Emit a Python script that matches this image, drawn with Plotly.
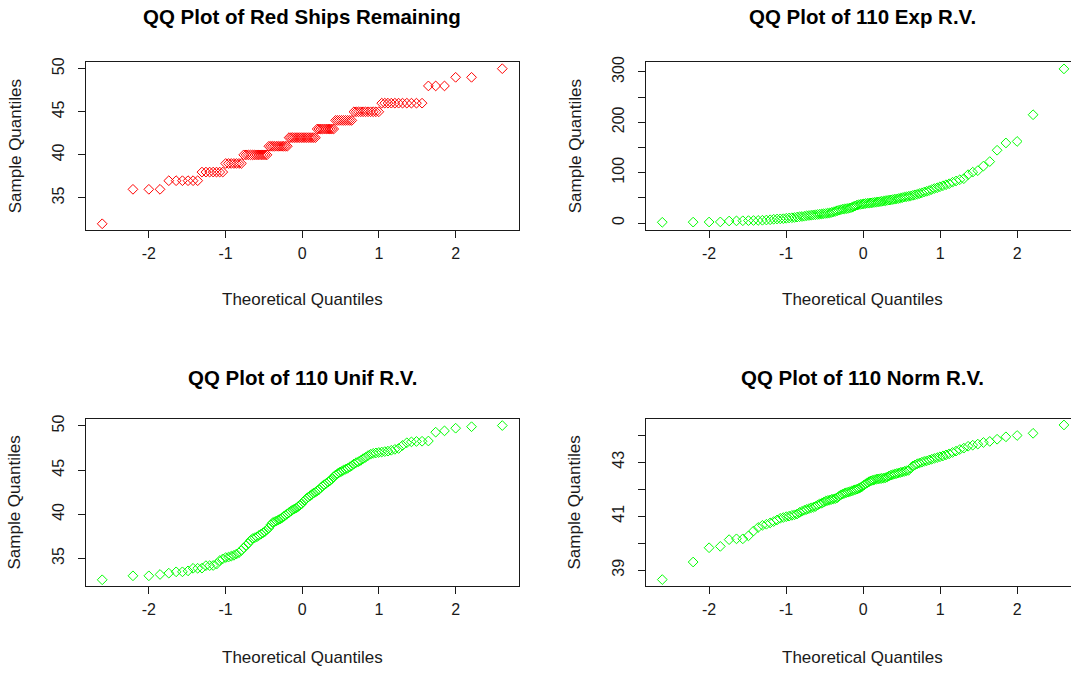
import plotly.graph_objects as go
from statistics import NormalDist

# Sorted sample values for each QQ panel
red_ships = ([32] + [36] * 3 + [37] * 6 + [38] * 7 + [39] * 7 + [40] * 12 +
             [41] * 11 + [42] * 16 + [43] * 10 + [44] * 9 + [45] * 11 +
             [46] * 11 + [48] * 3 + [49] * 2 + [50])

exp_rv = [1.5, 1.8, 2.0, 2.2, 4.0, 4.3, 4.5, 4.8, 5.0, 5.2,
          5.5, 6.0, 6.5, 7.5, 8.0, 8.3, 8.6, 9.5, 10.0, 10.5,
          11.0, 11.8, 12.5, 13.0, 13.5, 14.5, 15.0, 15.5, 16.0, 16.5,
          17.0, 17.5, 18.0, 18.5, 19.0, 19.5, 20.0, 21.0, 22.0, 23.0,
          24.5, 25.5, 26.5, 27.5, 28.0, 28.5, 29.0, 30.0, 31.0, 32.5,
          34.0, 35.5, 36.5, 37.0, 37.6, 38.2, 38.8, 39.2, 39.6, 40.0,
          40.5, 41.0, 41.5, 42.0, 42.5, 43.0, 43.5, 44.2, 44.8, 45.5,
          46.0, 46.7, 47.3, 48.0, 48.6, 49.5, 50.5, 51.5, 52.2, 53.0,
          54.0, 55.0, 56.0, 57.0, 58.5, 60.0, 61.5, 63.0, 64.5, 66.5,
          68.5, 70.0, 72.0, 74.0, 76.0, 78.0, 81.0, 83.5, 86.0, 88.0,
          96.0, 101.0, 104.0, 113.0, 122.0, 144.5, 159.0, 162.0, 215.0, 306.0]

unif_rv = [32.58, 33.03, 33.03, 33.18, 33.33, 33.48, 33.48, 33.59, 33.88, 33.88,
           33.90, 34.18, 34.18, 34.20, 34.35, 34.75, 34.95, 35.10, 35.15, 35.25,
           35.35, 35.50, 35.65, 35.90, 36.20, 36.45, 36.70, 37.05, 37.25, 37.35,
           37.45, 37.60, 37.75, 37.90, 38.05, 38.25, 38.45, 38.80, 39.05, 39.15,
           39.25, 39.35, 39.45, 39.60, 39.75, 39.90, 40.05, 40.20, 40.35, 40.50,
           40.60, 40.70, 40.85, 41.00, 41.15, 41.40, 41.60, 41.80, 41.95, 42.10,
           42.25, 42.40, 42.50, 42.65, 42.80, 43.00, 43.20, 43.35, 43.50, 43.65,
           43.80, 44.00, 44.25, 44.45, 44.60, 44.75, 44.85, 45.00, 45.10, 45.20,
           45.35, 45.50, 45.70, 45.85, 45.95, 46.10, 46.30, 46.45, 46.65, 46.80,
           46.90, 46.95, 47.00, 47.05, 47.10, 47.15, 47.25, 47.35, 47.45, 47.80,
           48.10, 48.20, 48.25, 48.27, 48.30, 49.30, 49.45, 49.75, 49.92, 50.05]

norm_rv = [38.65, 39.30, 39.83, 39.88, 40.13, 40.16, 40.16, 40.27, 40.45, 40.58,
           40.66, 40.70, 40.75, 40.80, 40.86, 40.92, 40.95, 40.98, 41.00, 41.03,
           41.05, 41.08, 41.14, 41.18, 41.22, 41.25, 41.28, 41.31, 41.33, 41.36,
           41.41, 41.46, 41.48, 41.52, 41.56, 41.58, 41.60, 41.62, 41.64, 41.65,
           41.68, 41.74, 41.79, 41.82, 41.85, 41.87, 41.89, 41.91, 41.93, 41.96,
           41.98, 42.00, 42.03, 42.06, 42.10, 42.15, 42.20, 42.24, 42.28, 42.31,
           42.33, 42.35, 42.37, 42.38, 42.39, 42.40, 42.41, 42.42, 42.45, 42.49,
           42.52, 42.54, 42.56, 42.58, 42.60, 42.62, 42.64, 42.66, 42.68, 42.70,
           42.78, 42.86, 42.90, 42.94, 42.97, 43.00, 43.03, 43.05, 43.08, 43.11,
           43.14, 43.17, 43.20, 43.23, 43.27, 43.31, 43.36, 43.41, 43.47, 43.52,
           43.59, 43.63, 43.67, 43.73, 43.77, 43.85, 43.94, 43.99, 44.07, 44.38]

titles = ["QQ Plot of Red Ships Remaining", "QQ Plot of 110 Exp R.V.",
          "QQ Plot of 110 Unif R.V.", "QQ Plot of 110 Norm R.V."]
x_tick_vals = [-2, -1, 0, 1, 2]
y_ticks = [
    ([35, 40, 45, 50], ["35", "40", "45", "50"]),
    ([0, 50, 100, 150, 200, 250, 300], ["0", "", "100", "", "200", "", "300"]),
    ([35, 40, 45, 50], ["35", "40", "45", "50"]),
    ([39, 40, 41, 42, 43, 44], ["39", "", "41", "", "43", ""]),
]
y_ranges = [[31.28, 50.72], [-13.8, 318.7], [31.9, 50.76], [38.42, 44.59]]
colors = ["#FF0000", "#00FF00", "#00FF00", "#00FF00"]
samples = [red_ships, exp_rv, unif_rv, norm_rv]


def theoretical(n):
    # qqnorm positions: ppoints(n) through the standard normal quantile
    a = 0.5 if n > 10 else 3 / 8
    nd = NormalDist()
    return [nd.inv_cdf((i + 1 - a) / (n + 1 - 2 * a)) for i in range(n)]


W, H = 1071, 673
# panel boxes in pixels: (left, right, top, bottom)
boxes = [(86, 518.5, 57, 226), (646, 1071, 57, 226),
         (86, 518.5, 417, 585), (646, 1071, 417, 585)]
x_ranges = [[-2.82, 2.82], [-2.82, 2.70], [-2.82, 2.82], [-2.82, 2.70]]

FONT = "Liberation Sans, Arial, sans-serif"
INK = "#1a1a1a"
fig = go.Figure()
annotations = []
for k in range(4):
    ax = "" if k == 0 else str(k + 1)
    vals = sorted(samples[k])
    fig.add_trace(go.Scatter(
        x=theoretical(len(vals)), y=vals, mode="markers",
        xaxis="x" + ax, yaxis="y" + ax,
        marker=dict(symbol="diamond-open", size=7.5, color=colors[k],
                    line=dict(width=1, color=colors[k])),
        showlegend=False, hoverinfo="x+y"))
    l, r, t, b = boxes[k]
    fig.layout["xaxis" + ax] = dict(
        domain=[l / W, r / W], range=x_ranges[k], anchor="y" + ax,
        showline=True, linecolor=INK, linewidth=1, mirror=True,
        showgrid=False, zeroline=False, ticks="outside", ticklen=7,
        tickcolor=INK, tickvals=x_tick_vals,
        ticktext=[str(v) for v in x_tick_vals], ticklabelstandoff=2,
        tickfont=dict(family=FONT, size=16, color=INK))
    tv, tt = y_ticks[k]
    fig.layout["yaxis" + ax] = dict(
        domain=[1 - b / H, 1 - t / H], range=y_ranges[k], anchor="x" + ax,
        showline=True, linecolor=INK, linewidth=1,
        mirror=(k % 2 == 0), showgrid=False, zeroline=False,
        ticks="outside", ticklen=7, tickcolor=INK,
        tickvals=tv, ticktext=tt, tickangle=-90, ticklabelstandoff=8,
        tickfont=dict(family=FONT, size=16, color=INK))
    cx = (l + (518.5 if k % 2 == 0 else 1078)) / 2
    title_y = 11 if k < 2 else 375
    xlab_y = 296 if k < 2 else 657
    ylab_x = 15 if k % 2 == 0 else 575
    annotations.append(dict(text="<b>" + titles[k] + "</b>", x=cx / W,
                            y=1 - title_y / H, xref="paper", yref="paper",
                            showarrow=False, xanchor="center", yanchor="middle",
                            font=dict(family=FONT, size=20.5, color="#000")))
    annotations.append(dict(text="Theoretical Quantiles", x=cx / W,
                            y=1 - xlab_y / H, xref="paper", yref="paper",
                            showarrow=False, xanchor="center", yanchor="middle",
                            font=dict(family=FONT, size=17, color=INK)))
    annotations.append(dict(text="Sample Quantiles", x=ylab_x / W,
                            y=1 - (t + b) / 2 / H, xref="paper", yref="paper",
                            showarrow=False, xanchor="center", yanchor="middle",
                            textangle=-90,
                            font=dict(family=FONT, size=17, color=INK)))

fig.update_layout(width=W, height=H, margin=dict(l=0, r=0, t=0, b=0),
                  paper_bgcolor="white", plot_bgcolor="white",
                  annotations=annotations)
fig.write_html("out.html")
